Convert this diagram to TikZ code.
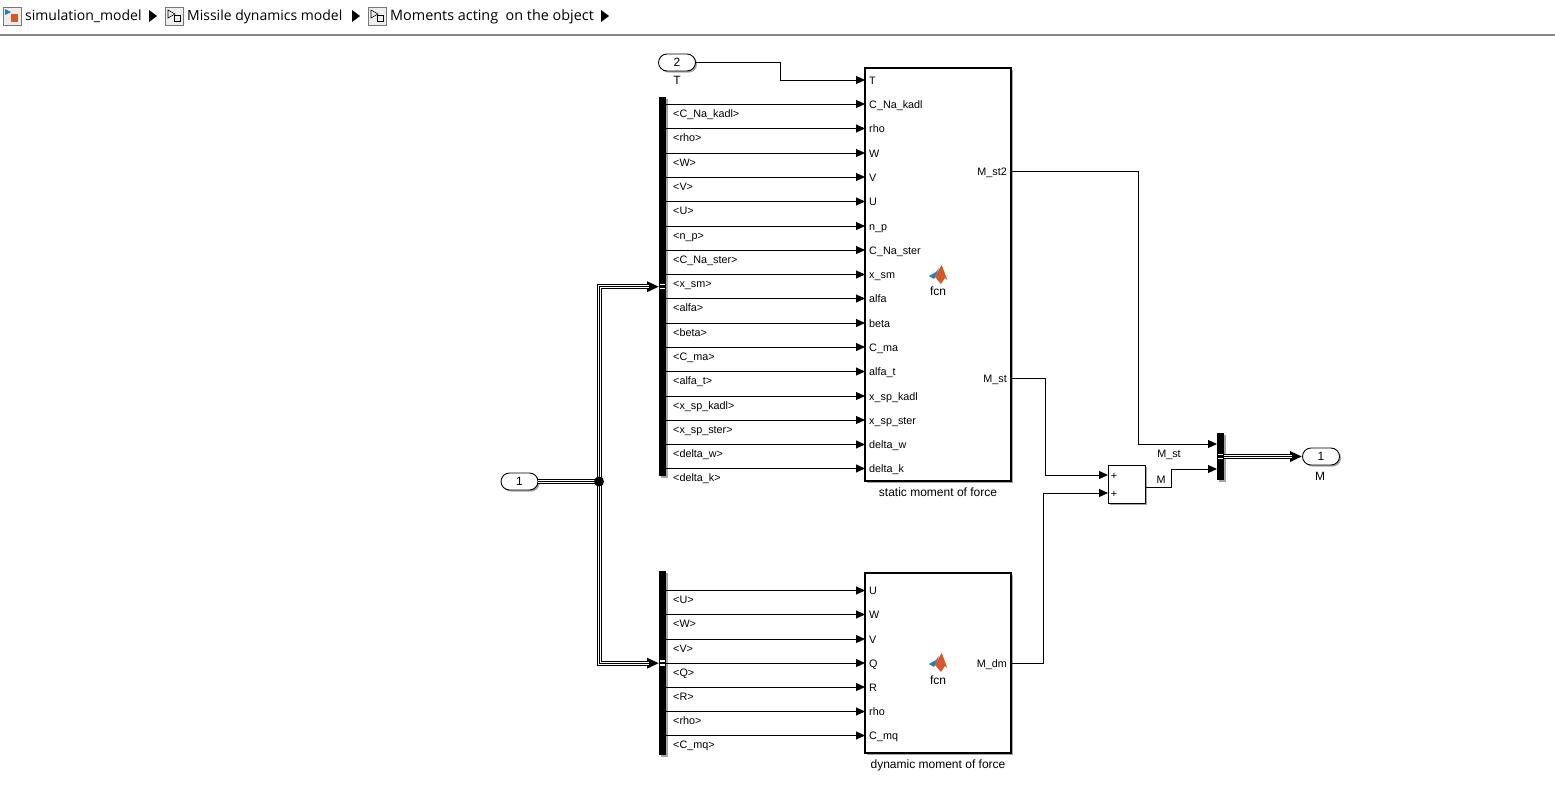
\documentclass[tikz,border=0pt]{standalone}
\usepackage{fontspec}
\setmainfont{Liberation Sans}
\newfontfamily\crumbfont{Open Sans}
\usetikzlibrary{arrows.meta,shadows,shapes.misc}
\definecolor{logored}{RGB}{214,88,40}
\definecolor{logoblue}{RGB}{40,125,185}
\definecolor{headrule}{RGB}{130,135,145}
\definecolor{iconline}{RGB}{120,120,120}
\definecolor{iconfill}{RGB}{238,238,238}
\tikzset{
  shade/.style={drop shadow={shadow xshift=1.6pt,shadow yshift=-1.6pt,opacity=.35,fill=black}},
  sig/.style={draw,line width=.9pt,-{Triangle[length=9pt,width=8pt]}},
  busline/.style={draw,line width=5pt,-{Triangle[length=12pt,width=10pt]},
    postaction={draw,white,line width=3pt,-,shorten >=10pt},
    postaction={draw,black,line width=1pt,-,shorten >=10pt}},
  busplain/.style={draw,line width=5pt,
    postaction={draw,white,line width=3pt},
    postaction={draw,black,line width=1pt}},
  block/.style={draw,line width=1.8pt,fill=white,shade,anchor=north west,inner sep=0pt},
  bar/.style={fill=black,shade,anchor=north west,inner sep=0pt,minimum width=7pt},
  barmark/.style={fill=white,inner sep=0pt,minimum width=5pt,minimum height=1.6pt},
  iport/.style={draw,line width=.9pt,fill=white,shade,rounded rectangle,minimum width=37pt,minimum height=17pt,inner sep=0pt,font=\fontsize{12}{14}\selectfont},
  port/.style={font=\fontsize{10.8}{12}\selectfont,anchor=west,inner xsep=4pt,inner ysep=0pt,text height=8pt,text depth=0pt},
  txt/.style={font=\fontsize{10.8}{12}\selectfont,inner sep=0pt,text height=8pt,text depth=0pt},
  blocklab/.style={font=\fontsize{12}{14}\selectfont,inner sep=0pt,text height=8pt,text depth=0pt},
  crumb/.style={font=\crumbfont\fontsize{14}{16}\selectfont,anchor=west,inner sep=0pt,text height=11pt,text depth=3pt},
  icon/.style={draw=iconline,fill=iconfill,minimum size=18pt,inner sep=0pt},
  logo/.pic={
    \fill[logoblue] (-9,1) -- (-2,-3) -- (1,-7) -- (-1,-2) -- (-3,2) -- (-4,4) -- cycle;
    \fill[logored] (3.7,-10) -- (9.3,5) -- (7,3) -- (3,9) -- (-3,2) -- (-1,-2) -- cycle;
  }
}
\begin{document}
\begin{tikzpicture}[x=1pt,y=-1pt]
  \useasboundingbox (0,0) rectangle (1555,787);

  % breadcrumb
  \draw[headrule,line width=2pt] (0,34.5) -- (1555,34.5);
  \node[icon] (i1) at (12,16) {};
  \node[icon] (i2) at (174,16) {};
  \node[icon] (i3) at (377,16) {};
  \fill[logoblue] (5,9) -- (11,12) -- (5,15) -- cycle;
  \fill[logored] (11,14) rectangle (18,22);
  \foreach \xx in {174,377} {
    \draw[black,line width=.6pt] (\xx-6,10) -- (\xx+1,14) -- (\xx-6,18) -- cycle;
    \draw[black,line width=.8pt] (\xx+0,15) rectangle (\xx+6,21);
  }
  \node[crumb] (c1) at (25,16) {simulation\_model};
  \node[crumb] (c2) at (187,16) {Missile dynamics model};
  \node[crumb,font=\crumbfont\fontsize{14.4}{16}\selectfont] (c3) at (390,16) {Moments acting\ \ on the object};
  \foreach \xx in {149,352,601}
    \fill (\xx,10) -- (\xx+8,16) -- (\xx,22) -- cycle;

  % blocks
  \node[block,minimum width=146pt,minimum height=413pt] (stat) at (864,67) {};
  \node[block,minimum width=146pt,minimum height=180pt] (dyn) at (864,572) {};
  \node[blocklab] (statlab) at (938,492) {static moment of force};
  \node[blocklab] (dynlab) at (938,764) {dynamic moment of force};
  \pic at (938,275) {logo};
  \pic at (938,663) {logo};
  \node[blocklab] (fcn1) at (938,291) {fcn};
  \node[blocklab] (fcn2) at (938,680) {fcn};

  \node[bar,minimum height=379pt] (bus1) at (659,97) {};
  \node[bar,minimum height=184pt] (bus2) at (659,571) {};
  \node[bar,minimum height=47pt] (mux) at (1217,433) {};
  \node[barmark] (b1a) at (662,284.5) {};
  \node[barmark] (b1b) at (662,288.5) {};
  \node[barmark] (b2a) at (662,661) {};
  \node[barmark] (b2b) at (662,665) {};
  \node[barmark] (m1a) at (1220,454.5) {};
  \node[barmark] (m1b) at (1220,458.5) {};

  \node[draw,line width=.9pt,fill=white,shade,minimum width=37pt,minimum height=38pt,inner sep=0pt,anchor=north west] (sum) at (1108,465) {};
  \node[txt] (plus1) at (1114,475) {+};
  \node[txt] (plus2) at (1114,493) {+};

  \node[iport] (in1) at (519.5,481.5) {1};
  \node[iport] (in2) at (677,62.5) {2};
  \node[iport] (out1) at (1321,456.5) {1};
  \node[blocklab] (tlab) at (677,80) {T};
  \node[blocklab] (mlab) at (1320,476) {M};

  % input ports of the static block
  \node[port] (pT) at (865,80) {T};
  \foreach \vv/\yy/\txt in {CNk/104/C\_Na\_kadl, rho/128.5/rho, W/153/W, V/177/V, U/201.5/U,
      np/226/n\_p, CNs/250/C\_Na\_ster, xsm/274.5/x\_sm, alfa/298.5/alfa, beta/323/beta,
      Cma/347/C\_ma, alft/371.5/alfa\_t, xspk/396/x\_sp\_kadl, xsps/420/x\_sp\_ster,
      dw/444.5/delta\_w, dk/468.5/delta\_k} {
    \node[port] (s\vv) at (865,\yy) {\txt};
    \node[port,inner xsep=0pt] (l\vv) at (673,\yy+9) {<\txt>};
    \draw[sig] (bus1.east |- s\vv.west) -- (s\vv.west);
  }

  % input ports of the dynamic block
  \foreach \vv/\yy/\txt in {U/590.5/U, W/614.5/W, V/639/V, Q/663/Q, R/687/R, rho/711.5/rho, Cmq/735.5/C\_mq} {
    \node[port] (d\vv) at (865,\yy) {\txt};
    \node[port,inner xsep=0pt] (e\vv) at (673,\yy+9) {<\txt>};
    \draw[sig] (bus2.east |- d\vv.west) -- (d\vv.west);
  }

  % outputs
  \node[port,anchor=east] (st2) at (1011,171) {M\_st2};
  \node[port,anchor=east] (st) at (1011,378) {M\_st};
  \node[port,anchor=east] (dm) at (1011,663) {M\_dm};
  \node[txt] (mst) at (1169,453) {M\_st};
  \node[txt] (mm) at (1161,479) {M};

  \coordinate (sumin1) at (1108,475);
  \coordinate (sumin2) at (1108,493);
  \coordinate (sumout) at (1145,487);
  \coordinate (muxin1) at (1217,444);
  \coordinate (muxin2) at (1217,469);
  \coordinate (junc) at (599,481.5);

  \draw[sig] (in2.east) -- (780,62.5) -- (780,80) -- (pT.west);
  \draw[sig] (st2.east) -- (1138,171) -- (1138,444) -- (muxin1);
  \draw[sig] (st.east) -- (1045,378) -- (1045,475) -- (sumin1);
  \draw[sig] (dm.east) -- (1043,663) -- (1043,493) -- (sumin2);
  \draw[sig] (sumout) -- (1171,487) -- (1171,469) -- (muxin2);

  \draw[busplain] (in1.east) -- (junc);
  \draw[busline] (junc) |- (bus1.west);
  \draw[busline] (junc) |- (bus2.west);
  \draw[busline] (mux.east |- out1.west) -- (out1.west);
  \node[circle,fill=black,inner sep=0pt,minimum size=10pt] (dot) at (junc) {};
\end{tikzpicture}
\end{document}
